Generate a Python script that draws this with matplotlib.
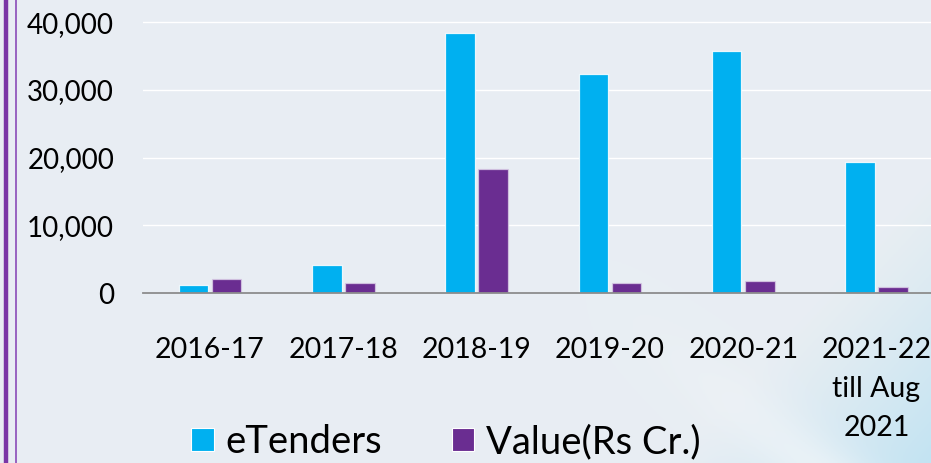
import matplotlib.pyplot as plt
import numpy as np
from matplotlib.patches import Patch

# --- Data ---
years = ["2016-17", "2017-18", "2018-19", "2019-20", "2020-21", "2021-22\ntill Aug\n2021"]
etenders = [1200, 4200, 38450, 32300, 35800, 19350]
value_cr = [2000, 1500, 18300, 1450, 1750, 950]
yticks = [0, 10000, 20000, 30000, 40000]

blue = "#00B0F0"
purple = "#6A2D91"
bg = "#E8EEF3"

plt.rcParams["font.family"] = ["Lato", "DejaVu Sans"]

W, H = 931, 463
fig = plt.figure(figsize=(W / 100, H / 100), dpi=100, facecolor=bg)

# --- Background: soft light streak with a cyan tint towards the lower right ---
bg_ax = fig.add_axes([0, 0, 1, 1], zorder=-10)
gx, gy = np.meshgrid(np.linspace(0, 1, 400), np.linspace(0, 1, 200))
base = np.array([0.910, 0.933, 0.953])
cyan = np.array([0.76, 0.89, 0.95])
white = np.array([0.96, 0.97, 0.98])
d = gx * 0.9 + gy * 0.55  # diagonal coordinate (gy = 0 is bottom)
t_cyan = np.clip((gx - 0.72) * 3.5 - gy * 1.6, 0, 1) ** 1.2
streak = np.exp(-((d - 0.78) / 0.05) ** 2) * np.clip((gx - 0.62) * 3, 0, 1) * np.clip(1 - gy * 1.6, 0, 1)
img = base[None, None, :] * (1 - t_cyan[..., None]) + cyan[None, None, :] * t_cyan[..., None]
img = img * (1 - 0.8 * streak[..., None]) + white[None, None, :] * 0.8 * streak[..., None]
bg_ax.imshow(img, origin="lower", extent=[0, 1, 0, 1], aspect="auto")
bg_ax.set_axis_off()

# purple rule lines on the left edge
fig.add_artist(plt.Line2D([6 / W, 6 / W], [0, 1], color="#7A36A6", lw=3.2))
fig.add_artist(plt.Line2D([16 / W, 16 / W], [0, 1], color="#8A4BB8", lw=1.2))

# --- Axes placement (category spacing ~133 px, first group at x=210) ---
step = 133.3
x_left = 210 - step / 2
x_right_val = -0.5 + (W - x_left) / step
y0_px = 293
px_per_unit = 67.7 / 10000
ax = fig.add_axes([x_left / W, (H - y0_px) / H, (W - x_left) / W, y0_px / H])
ax.set_facecolor("none")
ax.set_xlim(-0.5, x_right_val)
ax.set_ylim(0, y0_px / px_per_unit)

x = np.arange(len(years))
w = 0.222
off = 0.124
ax.bar(x - off, etenders, w, color=blue, edgecolor=(1, 1, 1, 0.85), linewidth=0.9, zorder=3)
ax.bar(x + off, value_cr, w, color=purple, edgecolor=(0.85, 0.8, 0.9, 0.8), linewidth=0.9, zorder=3)

ax.set_yticks(yticks)
ax.set_yticklabels([f"{v:,}" for v in yticks], fontsize=20)
ax.yaxis.grid(True, color=(1, 1, 1, 0.35), lw=1.0)
ax.set_axisbelow(True)
ax.set_xticks(x)
ax.set_xticklabels(years, fontsize=20.5, linespacing=1.6, va="top")
ax.tick_params(axis="y", length=0, pad=21)
ax.tick_params(axis="x", length=0, pad=32)
for s in ["top", "right", "left"]:
    ax.spines[s].set_visible(False)
ax.spines["bottom"].set_color("#8C8C8C")
ax.spines["bottom"].set_linewidth(1.3)
ax.spines["bottom"].set_zorder(4)

# --- Legend ---
handles = [Patch(facecolor=blue, edgecolor="white", lw=0.8, label="eTenders"),
           Patch(facecolor=purple, edgecolor="white", lw=0.8, label="Value(Rs Cr.)")]
fig.legend(handles=handles, loc="center", bbox_to_anchor=(446 / W, 1 - 442 / H), ncol=2,
           frameon=False, fontsize=27.5, handlelength=0.58, handleheight=0.58,
           handletextpad=0.3, columnspacing=1.85, borderpad=0)

fig.savefig("out.png", dpi=100, facecolor=bg)
